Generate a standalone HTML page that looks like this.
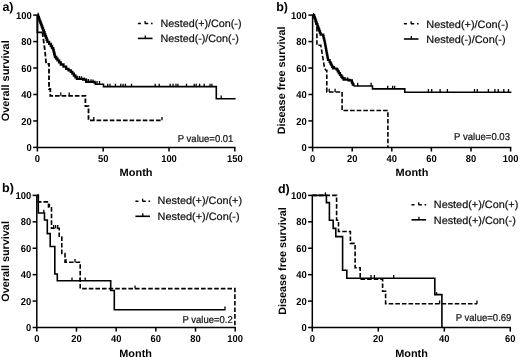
<!DOCTYPE html>
<html><head><meta charset="utf-8"><style>
html,body{margin:0;padding:0;background:#fff;}
body{width:520px;height:358px;overflow:hidden;}
svg{display:block;will-change:transform;}
text{font-family:"Liberation Sans",sans-serif;}
</style></head><body>
<svg width="520" height="358" viewBox="0 0 520 358" font-family="Liberation Sans, sans-serif" text-rendering="geometricPrecision">
<rect width="520" height="358" fill="#fff"/>
<g stroke="#000" fill="none">
<line x1="37.4" y1="15.1" x2="37.4" y2="147.4" stroke-width="1.5"/>
<line x1="36.65" y1="147.4" x2="235.5" y2="147.4" stroke-width="1.5"/>
<line x1="33.2" y1="147.4" x2="37.4" y2="147.4" stroke-width="1.5"/>
<text x="31.7" y="151" font-size="10" font-weight="bold" text-anchor="end" textLength="5.23" lengthAdjust="spacingAndGlyphs" fill="#000" stroke="none">0</text>
<line x1="33.2" y1="120.94" x2="37.4" y2="120.94" stroke-width="1.5"/>
<text x="31.7" y="124.54" font-size="10" font-weight="bold" text-anchor="end" textLength="10.46" lengthAdjust="spacingAndGlyphs" fill="#000" stroke="none">20</text>
<line x1="33.2" y1="94.48" x2="37.4" y2="94.48" stroke-width="1.5"/>
<text x="31.7" y="98.08" font-size="10" font-weight="bold" text-anchor="end" textLength="10.46" lengthAdjust="spacingAndGlyphs" fill="#000" stroke="none">40</text>
<line x1="33.2" y1="68.02" x2="37.4" y2="68.02" stroke-width="1.5"/>
<text x="31.7" y="71.62" font-size="10" font-weight="bold" text-anchor="end" textLength="10.46" lengthAdjust="spacingAndGlyphs" fill="#000" stroke="none">60</text>
<line x1="33.2" y1="41.56" x2="37.4" y2="41.56" stroke-width="1.5"/>
<text x="31.7" y="45.16" font-size="10" font-weight="bold" text-anchor="end" textLength="10.46" lengthAdjust="spacingAndGlyphs" fill="#000" stroke="none">80</text>
<line x1="33.2" y1="15.1" x2="37.4" y2="15.1" stroke-width="1.5"/>
<text x="31.7" y="18.7" font-size="10" font-weight="bold" text-anchor="end" textLength="15.68" lengthAdjust="spacingAndGlyphs" fill="#000" stroke="none">100</text>
<line x1="37.4" y1="147.4" x2="37.4" y2="151.5" stroke-width="1.5"/>
<text x="37.4" y="162" font-size="10" font-weight="bold" text-anchor="middle" textLength="5.23" lengthAdjust="spacingAndGlyphs" fill="#000" stroke="none">0</text>
<line x1="103.2" y1="147.4" x2="103.2" y2="151.5" stroke-width="1.5"/>
<text x="103.2" y="162" font-size="10" font-weight="bold" text-anchor="middle" textLength="10.46" lengthAdjust="spacingAndGlyphs" fill="#000" stroke="none">50</text>
<line x1="169" y1="147.4" x2="169" y2="151.5" stroke-width="1.5"/>
<text x="169" y="162" font-size="10" font-weight="bold" text-anchor="middle" textLength="15.68" lengthAdjust="spacingAndGlyphs" fill="#000" stroke="none">100</text>
<line x1="234.8" y1="147.4" x2="234.8" y2="151.5" stroke-width="1.5"/>
<text x="234.8" y="162" font-size="10" font-weight="bold" text-anchor="middle" textLength="15.68" lengthAdjust="spacingAndGlyphs" fill="#000" stroke="none">150</text>
<path d="M37.4 15.1H38.11V17H38.83V18.9H39.54V20.8H40.26V22.7H40.97V24.6H41.69V26.5H42.4V28.4H43.11V30.31H43.83V32.23H44.54V34.14H45.26V36.06H45.97V37.97H46.69V39.89H47.4V41.8H49.1V43.9H50.8V46H52.05V48.1H53.3V50.2H53.72V51.9H54.15V53.6H54.58V55.3H55V57H56.25V58.65H57.5V60.3H59.15V62.4H60.8V64.5H63.5V66.65H66.2V68.8H68.5V70.35H70.8V71.9H72.33V73.7H73.87V75.5H75.4V77.3H76.9V78.8H83.1V79.6H86.2V81.9H94.6V82.7H95.4" stroke-width="2.3"/>
<path d="M94.6 82.7H95.4V84.3H103.5V86.6H216.3V98.8H235.6" stroke-width="1.6"/>
<path d="M77.5 78.58v-2.8" stroke-width="1.3"/>
<path d="M79.5 78.84v-2.8" stroke-width="1.3"/>
<path d="M81.5 79.09v-2.8" stroke-width="1.3"/>
<path d="M84.5 80.34v-2.8" stroke-width="1.3"/>
<path d="M86.5 81.63v-2.8" stroke-width="1.3"/>
<path d="M88.5 81.82v-2.8" stroke-width="1.3"/>
<path d="M91 82.06v-2.8" stroke-width="1.3"/>
<path d="M93 82.25v-2.8" stroke-width="1.3"/>
<path d="M97 84.3v-3.2 M99.5 84.3v-3.2" stroke-width="1.3"/>
<path d="M107.7 86.6v-2.8 M110 86.6v-2.8 M115.4 86.6v-2.8 M120.8 86.6v-2.8 M123.1 86.6v-2.8 M125.4 86.6v-2.8 M131.5 86.6v-2.8 M155.2 86.6v-2.8 M159.2 86.6v-2.8 M170.2 86.6v-2.8 M173.1 86.6v-2.8 M176 86.6v-2.8 M177.9 86.6v-2.8 M186.5 86.6v-2.8 M194.2 86.6v-2.8 M196.2 86.6v-2.8 M199.6 86.6v-2.8 M204.2 86.6v-2.8 M210 86.6v-2.8 M211.9 86.6v-2.8" stroke-width="1.3"/>
<path d="M221.2 98.8v-3.2" stroke-width="1.3"/>
<path d="M38.2 15.6v-2.8" stroke-width="1.3"/>
<path d="M37.4 15.1V32.3H42.4" stroke-width="1.8"/>
<path d="M42.4 32.3L44.9 50.2L46.2 63.8H49V89H50.3V95.8H85.4V106.2H88.5V120.3H162.5" stroke-width="1.8" stroke-dasharray="4.6 2"/>
<path d="M60.8 95.8v-3.2 M69.2 95.8v-3.2" stroke-width="1.3"/>
<path d="M93.8 120.3v-3.2 M162 120.3v-3.2" stroke-width="1.3"/>
</g>
<text x="2.4" y="10.9" font-size="12.5" font-weight="bold" fill="#000" stroke="none">a)</text>
<text transform="translate(9.3 80.8) rotate(-90)" x="0" y="0" font-size="10.7" font-weight="bold" text-anchor="middle" textLength="81" lengthAdjust="spacingAndGlyphs" fill="#000" stroke="none">Overall survival</text>
<text x="136.1" y="175.7" font-size="10.7" font-weight="bold" text-anchor="middle" textLength="33" lengthAdjust="spacingAndGlyphs" fill="#000" stroke="none">Month</text>
<g stroke="#000" fill="none">
<line x1="312.6" y1="15.1" x2="312.6" y2="147.4" stroke-width="1.5"/>
<line x1="311.85" y1="147.4" x2="511.3" y2="147.4" stroke-width="1.5"/>
<line x1="308.4" y1="147.4" x2="312.6" y2="147.4" stroke-width="1.5"/>
<text x="306.8" y="151" font-size="10" font-weight="bold" text-anchor="end" textLength="5.23" lengthAdjust="spacingAndGlyphs" fill="#000" stroke="none">0</text>
<line x1="308.4" y1="120.94" x2="312.6" y2="120.94" stroke-width="1.5"/>
<text x="306.8" y="124.54" font-size="10" font-weight="bold" text-anchor="end" textLength="10.46" lengthAdjust="spacingAndGlyphs" fill="#000" stroke="none">20</text>
<line x1="308.4" y1="94.48" x2="312.6" y2="94.48" stroke-width="1.5"/>
<text x="306.8" y="98.08" font-size="10" font-weight="bold" text-anchor="end" textLength="10.46" lengthAdjust="spacingAndGlyphs" fill="#000" stroke="none">40</text>
<line x1="308.4" y1="68.02" x2="312.6" y2="68.02" stroke-width="1.5"/>
<text x="306.8" y="71.62" font-size="10" font-weight="bold" text-anchor="end" textLength="10.46" lengthAdjust="spacingAndGlyphs" fill="#000" stroke="none">60</text>
<line x1="308.4" y1="41.56" x2="312.6" y2="41.56" stroke-width="1.5"/>
<text x="306.8" y="45.16" font-size="10" font-weight="bold" text-anchor="end" textLength="10.46" lengthAdjust="spacingAndGlyphs" fill="#000" stroke="none">80</text>
<line x1="308.4" y1="15.1" x2="312.6" y2="15.1" stroke-width="1.5"/>
<text x="306.8" y="18.7" font-size="10" font-weight="bold" text-anchor="end" textLength="15.68" lengthAdjust="spacingAndGlyphs" fill="#000" stroke="none">100</text>
<line x1="312.6" y1="147.4" x2="312.6" y2="151.5" stroke-width="1.5"/>
<text x="312.6" y="162" font-size="10" font-weight="bold" text-anchor="middle" textLength="5.23" lengthAdjust="spacingAndGlyphs" fill="#000" stroke="none">0</text>
<line x1="352.2" y1="147.4" x2="352.2" y2="151.5" stroke-width="1.5"/>
<text x="352.2" y="162" font-size="10" font-weight="bold" text-anchor="middle" textLength="10.46" lengthAdjust="spacingAndGlyphs" fill="#000" stroke="none">20</text>
<line x1="391.8" y1="147.4" x2="391.8" y2="151.5" stroke-width="1.5"/>
<text x="391.8" y="162" font-size="10" font-weight="bold" text-anchor="middle" textLength="10.46" lengthAdjust="spacingAndGlyphs" fill="#000" stroke="none">40</text>
<line x1="431.4" y1="147.4" x2="431.4" y2="151.5" stroke-width="1.5"/>
<text x="431.4" y="162" font-size="10" font-weight="bold" text-anchor="middle" textLength="10.46" lengthAdjust="spacingAndGlyphs" fill="#000" stroke="none">60</text>
<line x1="471" y1="147.4" x2="471" y2="151.5" stroke-width="1.5"/>
<text x="471" y="162" font-size="10" font-weight="bold" text-anchor="middle" textLength="10.46" lengthAdjust="spacingAndGlyphs" fill="#000" stroke="none">80</text>
<line x1="510.6" y1="147.4" x2="510.6" y2="151.5" stroke-width="1.5"/>
<text x="510.6" y="162" font-size="10" font-weight="bold" text-anchor="middle" textLength="15.68" lengthAdjust="spacingAndGlyphs" fill="#000" stroke="none">100</text>
<path d="M312.6 15.1H313.5H314.15V16.88H314.79V18.66H315.44V20.45H316.08V22.23H316.73V24.01H317.37V25.79H318.02V27.57H318.66V29.35H319.31V31.14H319.95V32.92H320.6V34.7H323.2V36.2H323.6V37.8H324V39.4H324.4V41H324.73V42.73H325.05V44.45H325.38V46.18H325.71V47.91H326.04V49.64H326.36V51.36H326.69V53.09H327.02V54.82H327.35V56.55H327.67V58.27H328V60H329.6V62H330.45V63.62H331.3V65.25H332.15V66.88H333V68.5H336.5V69.5H337.67V71.33H338.83V73.17H340V75H341.2V76.53H342.4V78.07H343.6V79.6H348.5V80.4H351.9V82.7H352.7V84.35H353.5V86" stroke-width="2.2"/>
<path d="M353.5 86H372.5V88.9H404.8V92.2H511.4" stroke-width="1.6"/>
<path d="M330.5 63.42v-2.6" stroke-width="1.3"/>
<path d="M334.5 68.63v-2.6" stroke-width="1.3"/>
<path d="M337.5 70.77v-2.6" stroke-width="1.3"/>
<path d="M341.5 76.62v-2.6" stroke-width="1.3"/>
<path d="M345 79.53v-2.6" stroke-width="1.3"/>
<path d="M347.5 79.94v-2.6" stroke-width="1.3"/>
<path d="M350.5 81.45v-2.6" stroke-width="1.3"/>
<path d="M357.7 86v-3.2 M371.1 86v-3.2" stroke-width="1.3"/>
<path d="M313.6 15.6v-2.6" stroke-width="1.3"/>
<path d="M387.7 88.9v-3.2 M392.6 88.9v-3.2 M394.6 88.9v-3.2" stroke-width="1.3"/>
<path d="M428.4 92.2v-3.3 M431.7 92.2v-3.3 M440.1 92.2v-3.3 M447.4 92.2v-3.3 M474.5 92.2v-3.3 M477.3 92.2v-3.3 M488.4 92.2v-3.3 M494.9 92.2v-3.3 M498.2 92.2v-3.3 M503.8 92.2v-3.3 M508.5 92.2v-3.3" stroke-width="1.3"/>
<path d="M312.6 15.1H313.5L316.9 27.6V45.3H320.8L324.6 68.5L326.2 70.5H326.8V92H342.1V110.5H387.9V147.4" stroke-width="1.6" stroke-dasharray="4.6 2"/>
<path d="M329.2 92v-3.2 M335.1 92v-3.2" stroke-width="1.3"/>
</g>
<text x="276.2" y="11.3" font-size="12.5" font-weight="bold" fill="#000" stroke="none">b)</text>
<text transform="translate(285.4 80.4) rotate(-90)" x="0" y="0" font-size="10.7" font-weight="bold" text-anchor="middle" textLength="107.8" lengthAdjust="spacingAndGlyphs" fill="#000" stroke="none">Disease free survival</text>
<text x="412" y="175.9" font-size="10.7" font-weight="bold" text-anchor="middle" textLength="32.8" lengthAdjust="spacingAndGlyphs" fill="#000" stroke="none">Month</text>
<g stroke="#000" fill="none">
<line x1="36.8" y1="195.4" x2="36.8" y2="327.5" stroke-width="1.5"/>
<line x1="36.05" y1="327.5" x2="235.9" y2="327.5" stroke-width="1.5"/>
<line x1="32.6" y1="327.5" x2="36.8" y2="327.5" stroke-width="1.5"/>
<text x="31.3" y="331.1" font-size="10" font-weight="bold" text-anchor="end" textLength="5.23" lengthAdjust="spacingAndGlyphs" fill="#000" stroke="none">0</text>
<line x1="32.6" y1="301.08" x2="36.8" y2="301.08" stroke-width="1.5"/>
<text x="31.3" y="304.68" font-size="10" font-weight="bold" text-anchor="end" textLength="10.46" lengthAdjust="spacingAndGlyphs" fill="#000" stroke="none">20</text>
<line x1="32.6" y1="274.66" x2="36.8" y2="274.66" stroke-width="1.5"/>
<text x="31.3" y="278.26" font-size="10" font-weight="bold" text-anchor="end" textLength="10.46" lengthAdjust="spacingAndGlyphs" fill="#000" stroke="none">40</text>
<line x1="32.6" y1="248.24" x2="36.8" y2="248.24" stroke-width="1.5"/>
<text x="31.3" y="251.84" font-size="10" font-weight="bold" text-anchor="end" textLength="10.46" lengthAdjust="spacingAndGlyphs" fill="#000" stroke="none">60</text>
<line x1="32.6" y1="221.82" x2="36.8" y2="221.82" stroke-width="1.5"/>
<text x="31.3" y="225.42" font-size="10" font-weight="bold" text-anchor="end" textLength="10.46" lengthAdjust="spacingAndGlyphs" fill="#000" stroke="none">80</text>
<line x1="32.6" y1="195.4" x2="36.8" y2="195.4" stroke-width="1.5"/>
<text x="31.3" y="199" font-size="10" font-weight="bold" text-anchor="end" textLength="15.68" lengthAdjust="spacingAndGlyphs" fill="#000" stroke="none">100</text>
<line x1="36.8" y1="327.5" x2="36.8" y2="331.6" stroke-width="1.5"/>
<text x="36.8" y="342.1" font-size="10" font-weight="bold" text-anchor="middle" textLength="5.23" lengthAdjust="spacingAndGlyphs" fill="#000" stroke="none">0</text>
<line x1="76.48" y1="327.5" x2="76.48" y2="331.6" stroke-width="1.5"/>
<text x="76.48" y="342.1" font-size="10" font-weight="bold" text-anchor="middle" textLength="10.46" lengthAdjust="spacingAndGlyphs" fill="#000" stroke="none">20</text>
<line x1="116.16" y1="327.5" x2="116.16" y2="331.6" stroke-width="1.5"/>
<text x="116.16" y="342.1" font-size="10" font-weight="bold" text-anchor="middle" textLength="10.46" lengthAdjust="spacingAndGlyphs" fill="#000" stroke="none">40</text>
<line x1="155.84" y1="327.5" x2="155.84" y2="331.6" stroke-width="1.5"/>
<text x="155.84" y="342.1" font-size="10" font-weight="bold" text-anchor="middle" textLength="10.46" lengthAdjust="spacingAndGlyphs" fill="#000" stroke="none">60</text>
<line x1="195.52" y1="327.5" x2="195.52" y2="331.6" stroke-width="1.5"/>
<text x="195.52" y="342.1" font-size="10" font-weight="bold" text-anchor="middle" textLength="10.46" lengthAdjust="spacingAndGlyphs" fill="#000" stroke="none">80</text>
<line x1="235.2" y1="327.5" x2="235.2" y2="331.6" stroke-width="1.5"/>
<text x="235.2" y="342.1" font-size="10" font-weight="bold" text-anchor="middle" textLength="15.68" lengthAdjust="spacingAndGlyphs" fill="#000" stroke="none">100</text>
<path d="M36.8 195.4H38.3V213H44.5V220H47.3V233.6H50.2V246.5H54.8V274H57.3V280.8H110.7V290.5H114.3V309.8H225.4" stroke-width="1.6"/>
<path d="M43.8 213v-3.2" stroke-width="1.3"/>
<path d="M72 280.8v-3.2 M80.1 280.8v-3.2 M85.2 280.8v-3.2" stroke-width="1.3"/>
<path d="M225 309.8v-3.2" stroke-width="1.3"/>
<path d="M36.8 195.4H38.3V201.9H48.5V207H51.5V228.2H59.2V237H61.8V253.5H65V262.2H80.2V288.6H234.9V327.5" stroke-width="1.6" stroke-dasharray="4.6 2"/>
<path d="M49.5 207v-3.2" stroke-width="1.3"/>
<path d="M53.6 228.2v-3.2 M55.6 228.2v-3.2 M57.7 228.2v-3.2" stroke-width="1.3"/>
<path d="M66 262.2v-3.2 M75 262.2v-3.2" stroke-width="1.3"/>
<path d="M135 288.6v-3.2" stroke-width="1.3"/>
</g>
<text x="2" y="192.4" font-size="12.5" font-weight="bold" fill="#000" stroke="none">b)</text>
<text transform="translate(9.1 261.4) rotate(-90)" x="0" y="0" font-size="10.7" font-weight="bold" text-anchor="middle" textLength="80.6" lengthAdjust="spacingAndGlyphs" fill="#000" stroke="none">Overall survival</text>
<text x="135.6" y="356.5" font-size="10.7" font-weight="bold" text-anchor="middle" textLength="32.6" lengthAdjust="spacingAndGlyphs" fill="#000" stroke="none">Month</text>
<g stroke="#000" fill="none">
<line x1="312.3" y1="195.4" x2="312.3" y2="327.5" stroke-width="1.5"/>
<line x1="311.55" y1="327.5" x2="511" y2="327.5" stroke-width="1.5"/>
<line x1="308.1" y1="327.5" x2="312.3" y2="327.5" stroke-width="1.5"/>
<text x="306.8" y="331.1" font-size="10" font-weight="bold" text-anchor="end" textLength="5.23" lengthAdjust="spacingAndGlyphs" fill="#000" stroke="none">0</text>
<line x1="308.1" y1="301.08" x2="312.3" y2="301.08" stroke-width="1.5"/>
<text x="306.8" y="304.68" font-size="10" font-weight="bold" text-anchor="end" textLength="10.46" lengthAdjust="spacingAndGlyphs" fill="#000" stroke="none">20</text>
<line x1="308.1" y1="274.66" x2="312.3" y2="274.66" stroke-width="1.5"/>
<text x="306.8" y="278.26" font-size="10" font-weight="bold" text-anchor="end" textLength="10.46" lengthAdjust="spacingAndGlyphs" fill="#000" stroke="none">40</text>
<line x1="308.1" y1="248.24" x2="312.3" y2="248.24" stroke-width="1.5"/>
<text x="306.8" y="251.84" font-size="10" font-weight="bold" text-anchor="end" textLength="10.46" lengthAdjust="spacingAndGlyphs" fill="#000" stroke="none">60</text>
<line x1="308.1" y1="221.82" x2="312.3" y2="221.82" stroke-width="1.5"/>
<text x="306.8" y="225.42" font-size="10" font-weight="bold" text-anchor="end" textLength="10.46" lengthAdjust="spacingAndGlyphs" fill="#000" stroke="none">80</text>
<line x1="308.1" y1="195.4" x2="312.3" y2="195.4" stroke-width="1.5"/>
<text x="306.8" y="199" font-size="10" font-weight="bold" text-anchor="end" textLength="15.68" lengthAdjust="spacingAndGlyphs" fill="#000" stroke="none">100</text>
<line x1="312.3" y1="327.5" x2="312.3" y2="331.6" stroke-width="1.5"/>
<text x="312.3" y="342.1" font-size="10" font-weight="bold" text-anchor="middle" textLength="5.23" lengthAdjust="spacingAndGlyphs" fill="#000" stroke="none">0</text>
<line x1="378.3" y1="327.5" x2="378.3" y2="331.6" stroke-width="1.5"/>
<text x="378.3" y="342.1" font-size="10" font-weight="bold" text-anchor="middle" textLength="10.46" lengthAdjust="spacingAndGlyphs" fill="#000" stroke="none">20</text>
<line x1="444.3" y1="327.5" x2="444.3" y2="331.6" stroke-width="1.5"/>
<text x="444.3" y="342.1" font-size="10" font-weight="bold" text-anchor="middle" textLength="10.46" lengthAdjust="spacingAndGlyphs" fill="#000" stroke="none">40</text>
<line x1="510.3" y1="327.5" x2="510.3" y2="331.6" stroke-width="1.5"/>
<text x="510.3" y="342.1" font-size="10" font-weight="bold" text-anchor="middle" textLength="10.46" lengthAdjust="spacingAndGlyphs" fill="#000" stroke="none">60</text>
<path d="M312.3 195.4H326.4V202.6H329.4V220.2H333.2V228.4H335.8V236.6H342.6V270.2H346.8V278.2H434.8V294.6H441.9V327.5" stroke-width="1.6"/>
<path d="M325.4 195.4v-3" stroke-width="1.3"/>
<path d="M371 278.2v-3.2 M374.4 278.2v-3.2 M393.7 278.2v-3.2" stroke-width="1.3"/>
<path d="M436.6 294.6v-2.4" stroke-width="1.3"/>
<path d="M312.3 195.4H336.6V220.2H338.5V231.5H350.4V243.4H355.1V267.7H360.2V279.2H382.6V291.2H385.6V303.8H477.1" stroke-width="1.6" stroke-dasharray="4.6 2"/>
<path d="M439.6 303.8v-3.2 M477 303.8v-3.2" stroke-width="1.3"/>
</g>
<text x="277.9" y="193.1" font-size="12.5" font-weight="bold" fill="#000" stroke="none">d)</text>
<text transform="translate(285.5 261) rotate(-90)" x="0" y="0" font-size="10.7" font-weight="bold" text-anchor="middle" textLength="107.4" lengthAdjust="spacingAndGlyphs" fill="#000" stroke="none">Disease free survival</text>
<text x="411.5" y="356.5" font-size="10.7" font-weight="bold" text-anchor="middle" textLength="32.6" lengthAdjust="spacingAndGlyphs" fill="#000" stroke="none">Month</text>
<g stroke="#000" fill="none">
<path d="M137.9 23.5h14.7" stroke-width="1.6" stroke-dasharray="3 3.9 3.4 2.8 1.6 20"/>
<path d="M145.1 23.5v-2.5" stroke-width="1.3"/>
<path d="M137.9 38.4h14.6" stroke-width="1.6"/>
<path d="M145.3 38.4v-3" stroke-width="1.3"/>
</g>
<text x="160.6" y="26.9" font-size="10.7" textLength="80.9" lengthAdjust="spacingAndGlyphs" fill="#111" stroke="#111" stroke-width="0.22">Nested(+)/Con(-)</text>
<text x="160.6" y="42.4" font-size="10.7" textLength="78.2" lengthAdjust="spacingAndGlyphs" fill="#111" stroke="#111" stroke-width="0.22">Nested(-)/Con(-)</text>
<g stroke="#000" fill="none">
<path d="M403.9 23.8h14.7" stroke-width="1.6" stroke-dasharray="3 3.9 3.4 2.8 1.6 20"/>
<path d="M411.1 23.8v-2.5" stroke-width="1.3"/>
<path d="M403.9 39h14.6" stroke-width="1.6"/>
<path d="M411.3 39v-3" stroke-width="1.3"/>
</g>
<text x="426.3" y="27.7" font-size="10.7" textLength="82.2" lengthAdjust="spacingAndGlyphs" fill="#111" stroke="#111" stroke-width="0.22">Nested(+)/Con(-)</text>
<text x="426.3" y="42.7" font-size="10.7" textLength="79.3" lengthAdjust="spacingAndGlyphs" fill="#111" stroke="#111" stroke-width="0.22">Nested(-)/Con(-)</text>
<g stroke="#000" fill="none">
<path d="M135.4 201.2h14.7" stroke-width="1.6" stroke-dasharray="3 3.9 3.4 2.8 1.6 20"/>
<path d="M142.6 201.2v-2.5" stroke-width="1.3"/>
<path d="M135.4 216.3h14.6" stroke-width="1.6"/>
<path d="M142.8 216.3v-3" stroke-width="1.3"/>
</g>
<text x="157.6" y="204.3" font-size="10.7" textLength="84.5" lengthAdjust="spacingAndGlyphs" fill="#111" stroke="#111" stroke-width="0.22">Nested(+)/Con(+)</text>
<text x="157.6" y="219.8" font-size="10.7" textLength="82" lengthAdjust="spacingAndGlyphs" fill="#111" stroke="#111" stroke-width="0.22">Nested(+)/Con(-)</text>
<g stroke="#000" fill="none">
<path d="M411.5 204.8h14.7" stroke-width="1.6" stroke-dasharray="3 3.9 3.4 2.8 1.6 20"/>
<path d="M418.7 204.8v-2.5" stroke-width="1.3"/>
<path d="M411.5 219.8h14.6" stroke-width="1.6"/>
<path d="M418.9 219.8v-3" stroke-width="1.3"/>
</g>
<text x="433.8" y="208.2" font-size="10.7" textLength="84.5" lengthAdjust="spacingAndGlyphs" fill="#111" stroke="#111" stroke-width="0.22">Nested(+)/Con(+)</text>
<text x="433.8" y="223.5" font-size="10.7" textLength="82" lengthAdjust="spacingAndGlyphs" fill="#111" stroke="#111" stroke-width="0.22">Nested(+)/Con(-)</text>
<text x="177.8" y="141.5" font-size="10" textLength="55.6" lengthAdjust="spacingAndGlyphs" fill="#111" stroke="#111" stroke-width="0.22">P value=0.01</text>
<text x="454.1" y="140.3" font-size="10" textLength="55.9" lengthAdjust="spacingAndGlyphs" fill="#111" stroke="#111" stroke-width="0.22">P value=0.03</text>
<text x="182.5" y="322.5" font-size="10" textLength="50.2" lengthAdjust="spacingAndGlyphs" fill="#111" stroke="#111" stroke-width="0.22">P value=0.2</text>
<text x="455.7" y="321.1" font-size="10" textLength="55.7" lengthAdjust="spacingAndGlyphs" fill="#111" stroke="#111" stroke-width="0.22">P value=0.69</text>
</svg>
</body></html>
